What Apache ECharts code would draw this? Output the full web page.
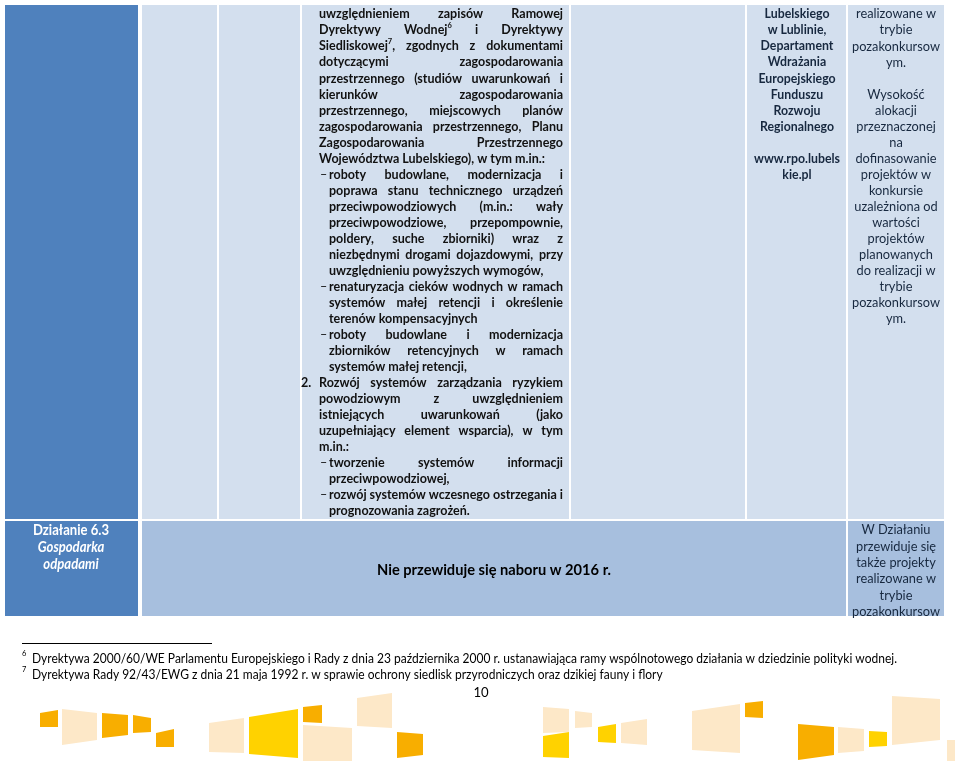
<!DOCTYPE html>
<html><head><meta charset="utf-8">
<script src="https://cdn.jsdelivr.net/npm/echarts@6/dist/echarts.min.js"></script>
<style>html,body{margin:0;padding:0;background:#fff}#c{width:960px;height:764px}</style>
</head><body><div id="c"></div>
<script>
// ---------- content ----------
const mainLines = [
  {t:'uwzględnieniem zapisów Ramowej', j:1},
  {t:'Dyrektywy Wodnej^6 i Dyrektywy', j:1},
  {t:'Siedliskowej^7, zgodnych z dokumentami', j:1},
  {t:'dotyczącymi zagospodarowania', j:1},
  {t:'przestrzennego (studiów uwarunkowań i', j:1},
  {t:'kierunków zagospodarowania', j:1},
  {t:'przestrzennego, miejscowych planów', j:1},
  {t:'zagospodarowania przestrzennego, Planu', j:1},
  {t:'Zagospodarowania Przestrzennego', j:1},
  {t:'Województwa Lubelskiego), w tym m.in.:', j:0},
  {t:'roboty budowlane, modernizacja i', j:1, b:1},
  {t:'poprawa stanu technicznego urządzeń', j:1, i:1},
  {t:'przeciwpowodziowych (m.in.: wały', j:1, i:1},
  {t:'przeciwpowodziowe, przepompownie,', j:1, i:1},
  {t:'poldery, suche zbiorniki) wraz z', j:1, i:1},
  {t:'niezbędnymi drogami dojazdowymi, przy', j:1, i:1},
  {t:'uwzględnieniu powyższych wymogów,', j:0, i:1},
  {t:'renaturyzacja cieków wodnych w ramach', j:1, b:1},
  {t:'systemów małej retencji i określenie', j:1, i:1},
  {t:'terenów kompensacyjnych', j:0, i:1},
  {t:'roboty budowlane i modernizacja', j:1, b:1},
  {t:'zbiorników retencyjnych w ramach', j:1, i:1},
  {t:'systemów małej retencji,', j:0, i:1},
  {t:'Rozwój systemów zarządzania ryzykiem', j:1, n:'2.'},
  {t:'powodziowym z uwzględnieniem', j:1},
  {t:'istniejących uwarunkowań (jako', j:1},
  {t:'uzupełniający element wsparcia), w tym', j:1},
  {t:'m.in.:', j:0},
  {t:'tworzenie systemów informacji', j:1, b:1},
  {t:'przeciwpowodziowej,', j:0, i:1},
  {t:'rozwój systemów wczesnego ostrzegania i', j:1, b:1},
  {t:'prognozowania zagrożeń.', j:0, i:1}
];
const institutionLines = ['Lubelskiego','w Lublinie,','Departament','Wdrażania','Europejskiego','Funduszu','Rozwoju','Regionalnego','','www.rpo.lubels','kie.pl'];
const notesLines = ['realizowane w','trybie','pozakonkursow','ym.','','Wysokość','alokacji','przeznaczonej','na','dofinasowanie','projektów w','konkursie','uzależniona od','wartości','projektów','planowanych','do realizacji w','trybie','pozakonkursow','ym.'];
const actionLines = [{t:'Działanie 6.3', s:'bold'},{t:'Gospodarka', s:'italic bold'},{t:'odpadami', s:'italic bold'}];
const row2Note = 'Nie przewiduje się naboru w 2016 r.';
const row2Notes = ['W Działaniu','przewiduje się','także projekty','realizowane w','trybie','pozakonkursow'];
const footnotes = [
  ['6','Dyrektywa 2000/60/WE Parlamentu Europejskiego i Rady z dnia 23 października 2000 r. ustanawiająca ramy wspólnotowego działania w dziedzinie polityki wodnej.'],
  ['7','Dyrektywa Rady 92/43/EWG z dnia 21 maja 1992 r. w sprawie ochrony siedlisk przyrodniczych oraz dzikiej fauny i flory']
];
const pageNumber = '10';
// decorative ribbon (o = orange, y = yellow, l = light)
const ribbonKinds = ['o','l','o','o','o','l','y','o','l','l','o','l','l','y','y','l','l','o','o','l','y','l','l'];
const ribbonPts = [
 [[40,713],[58,710],[58,727],[40,727]],[[62,709],[97,713],[97,740],[62,745]],[[102,713],[128,715],[128,735],[102,738]],
 [[133,715],[151,718],[151,732],[133,733]],[[156,733],[174,729],[174,747],[156,747]],[[209,723],[244,718],[244,753],[209,752]],
 [[249,717],[298,709],[298,758],[249,754]],[[303,707],[322,705],[322,723],[303,722]],[[303,725],[352,728],[352,761],[303,761]],
 [[357,698],[392,693],[392,728],[357,726]],[[397,732],[423,734],[423,755],[397,758]],[[543,707],[569,709],[569,732],[543,733]],
 [[575,711],[592,713],[592,727],[575,728]],[[543,736],[569,732],[569,758],[543,757]],[[598,727],[616,724],[616,743],[598,742]],
 [[621,723],[647,719],[647,745],[621,743]],[[692,711],[740,704],[740,753],[692,750]],[[745,703],[763,701],[763,718],[745,717]],
 [[798,724],[834,727],[834,755],[798,760]],[[838,727],[864,729],[864,751],[838,753]],[[869,731],[887,732],[887,746],[869,747]],
 [[892,696],[940,699],[940,740],[892,745]],[[947,740],[955,740],[955,761],[947,761]]
];

// ---------- layout / style ----------
const FAM = 'Lato';
const C = {dark:'#4F81BD', light:'#D3DFEE', mid:'#A7BFDE', txt:'#111111', navy:'#17283F',
           o:'#F8AE00', y:'#FFD200', l:'#FDE8C8'};
const cols = [[5,138],[142,217],[219,300],[302,569],[571,745],[747,846],[848,944]];
const row1 = [5,519], row2 = [521,616];

const ctx = document.createElement('canvas').getContext('2d');
function raw(t, size, w){ ctx.font = w+' '+size+'px '+FAM; return ctx.measureText(t).width; }
// font spec: {size, w, sx}
function spec(ref, w, size, target){ return {size, w, sx: Math.min(1, target/raw(ref,size,w))}; }
function meas(t, f){ return raw(t,f.size,f.w)*f.sx; }

const els = [];
function rect(x0,x1,y0,y1,fill){ els.push({type:'rect', shape:{x:x0,y:y0,width:x1-x0,height:y1-y0}, style:{fill}, silent:true}); }
function text(t,x,y,f,fill,align){
  els.push({type:'text', x, y, scaleX:f.sx, style:{text:t, font:f.w+' '+f.size+'px '+FAM, fill, textAlign:align||'left', textVerticalAlign:'middle'}, silent:true});
}

// cells
cols.forEach((c,i)=>rect(c[0],c[1],row1[0],row1[1], i===0?C.dark:C.light));
rect(cols[0][0],cols[0][1],row2[0],row2[1],C.dark);
rect(cols[1][0],cols[5][1],row2[0],row2[1],C.mid);
rect(cols[6][0],cols[6][1],row2[0],row2[1],C.mid);

// main justified column
const mF = spec('Województwa Lubelskiego), w tym m.in.:','bold',13.6,226);
const supF = {size:mF.size*0.6, w:'bold', sx:mF.sx};
function wordW(w){
  const m = w.match(/^(.*)\^(\d)(.*)$/);
  if(!m) return meas(w,mF);
  return meas(m[1],mF)+meas(m[2],supF)+meas(m[3],mF);
}
function word(w,x,y,fill){
  const m = w.match(/^(.*)\^(\d)(.*)$/);
  if(!m){ text(w,x,y,mF,fill); return; }
  text(m[1],x,y,mF,fill); x+=meas(m[1],mF);
  text(m[2],x,y-mF.size*0.35,supF,fill); x+=meas(m[2],supF);
  text(m[3],x,y,mF,fill);
}
function line(t,x0,x1,y,fill,just){
  const ws = t.split(' ');
  const wd = ws.map(wordW);
  const tot = wd.reduce((a,b)=>a+b,0);
  const gap = (just && ws.length>1) ? (x1-x0-tot)/(ws.length-1) : meas(' ',mF);
  let x = x0;
  ws.forEach((w,i)=>{ word(w,x,y,fill); x+=wd[i]+gap; });
}
const X0=319, XI=329, X1=563, Y0=14, LH=16.03;
const dashF = {size:mF.size, w:'normal', sx:mF.sx};
mainLines.forEach((L,i)=>{
  const y = Y0+i*LH;
  if(L.b) text('–',X0+1,y,dashF,C.txt);
  if(L.n) text(L.n,301,y,mF,C.txt);
  line(L.t,(L.b||L.i)?XI:X0,X1,y,C.txt,L.j);
});

// institution column
const iF = spec('www.rpo.lubels','bold',13.6,86);
institutionLines.forEach((t,i)=>{ if(t) text(t,797,Y0+i*LH,iF,C.navy,'center'); });
// notes column
const nF = spec('pozakonkursow','normal',13.8,88);
notesLines.forEach((t,i)=>{ if(t) text(t,896,Y0+i*LH,nF,C.navy,'center'); });

// row 2
const aF = spec('Działanie 6.3','bold',14.5,76);
const aFi = {size:aF.size, w:'italic bold', sx:aF.sx};
actionLines.forEach((a,i)=>text(a.t,71,530+i*17,i?aFi:aF,'#ffffff','center'));
const rF = spec(row2Note,'bold',15.5,234);
text(row2Note,494,570,rF,'#000','center');
row2Notes.forEach((t,i)=>text(t,896,530+i*16.3,nF,C.navy,'center'));

// footnotes
els.push({type:'line', shape:{x1:22,y1:643.5,x2:212,y2:643.5}, style:{stroke:'#000',lineWidth:1}, silent:true});
const fF = spec(footnotes[0][1],'normal',12.8,865);
const fsF = {size:8, w:'normal', sx:fF.sx};
footnotes.forEach((f,i)=>{
  const y = 659+i*16;
  text(f[0],22,y-6,fsF,'#000');
  text(f[1],32,y,fF,'#000');
});
text(pageNumber,481,692,{size:14, w:'normal', sx:fF.sx},'#000','center');

// ribbon
ribbonPts.forEach((p,i)=>els.push({type:'polygon', shape:{points:p}, style:{fill:C[ribbonKinds[i]]}, silent:true}));

const chart = echarts.init(document.getElementById('c'), null, {renderer:'canvas'});
chart.setOption({backgroundColor:'#ffffff', animation:false, graphic:{elements:els}});
</script></body></html>
